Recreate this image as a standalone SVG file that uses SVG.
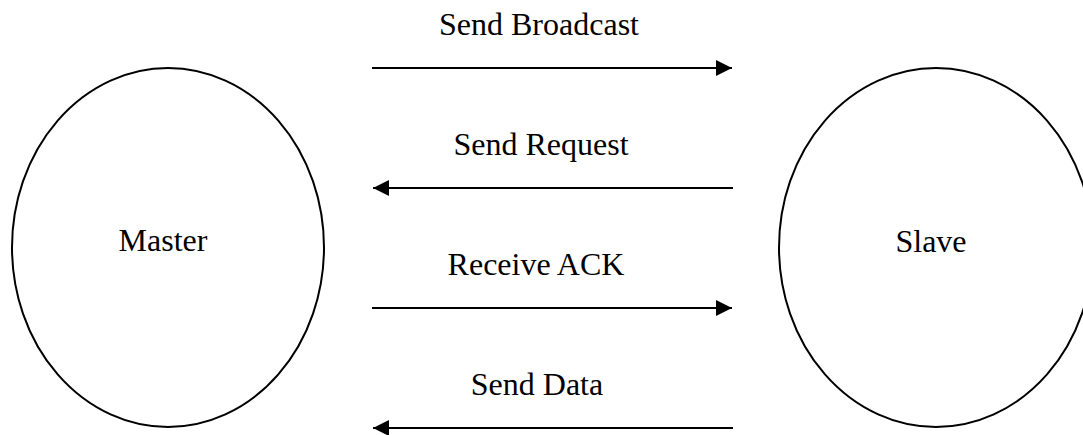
<svg xmlns="http://www.w3.org/2000/svg" width="1083" height="435" viewBox="0 0 1083 435">
  <style>
    .node { fill: #ffffff; stroke: #000000; stroke-width: 2; }
    .label { font-family: "Liberation Serif", "Times New Roman", serif; font-size: 32px; fill: #000000; text-anchor: middle; }
    .link { stroke: #000000; stroke-width: 2; fill: none; marker-end: url(#head); }
  </style>
  <defs>
    <marker id="head" viewBox="0 0 16 16" refX="16" refY="8" markerWidth="16" markerHeight="16" markerUnits="userSpaceOnUse" orient="auto">
      <path d="M0,0 L16,8 L0,16 Z" fill="#000000"/>
    </marker>
  </defs>
  <rect width="1083" height="435" fill="#ffffff"/>

  <g id="master">
    <ellipse class="node" cx="168" cy="247.5" rx="156" ry="179.5"/>
    <text class="label" x="163" y="251">Master</text>
  </g>

  <g id="slave">
    <ellipse class="node" cx="936" cy="247.5" rx="157" ry="179.5"/>
    <text class="label" x="931" y="252">Slave</text>
  </g>

  <g id="connectors">
    <line class="link" x1="372" y1="68" x2="732" y2="68"/>
    <text class="label" x="539" y="35">Send Broadcast</text>

    <line class="link" x1="733" y1="188" x2="373" y2="188"/>
    <text class="label" x="541" y="155">Send Request</text>

    <line class="link" x1="372" y1="308" x2="732" y2="308"/>
    <text class="label" x="536" y="275">Receive ACK</text>

    <line class="link" x1="733" y1="428" x2="373" y2="428"/>
    <text class="label" x="537" y="395">Send Data</text>
  </g>
</svg>
